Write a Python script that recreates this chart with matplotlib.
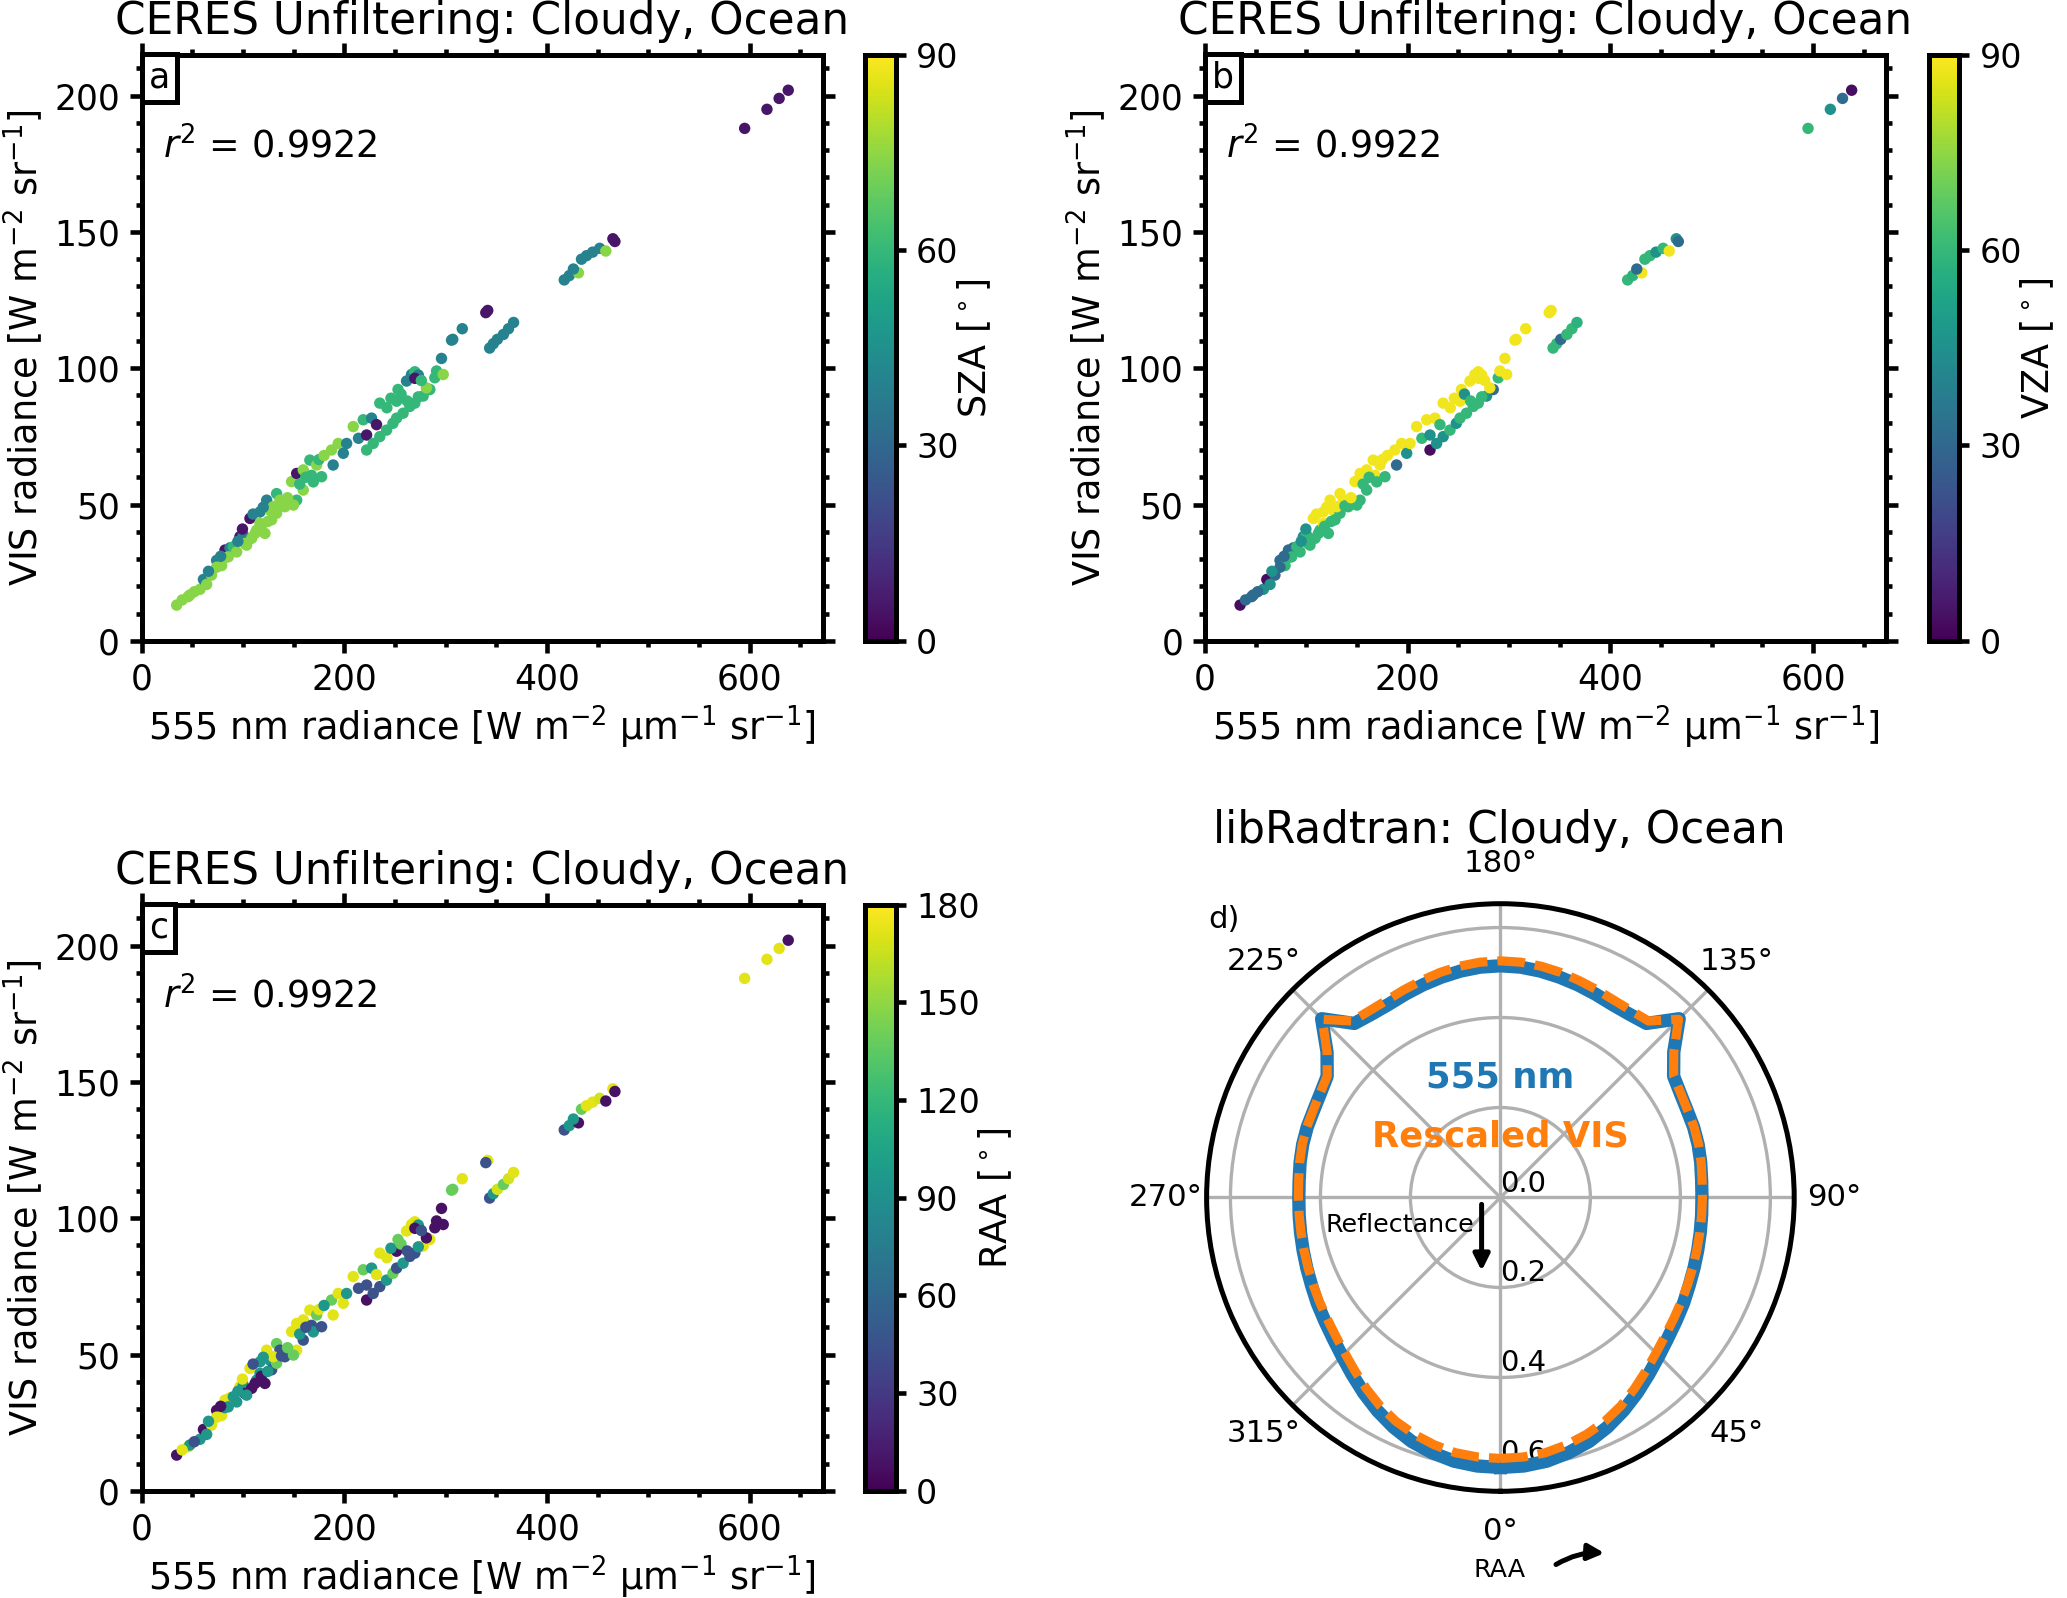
import numpy as np
import matplotlib
matplotlib.use("Agg")
import matplotlib.pyplot as plt
from matplotlib.ticker import MultipleLocator

# ---- scatter data (same points in a, b, c; colour differs) ----
rad555 = [595.0, 617.0, 629.0, 638.0,
          417.0, 422.0, 431.0, 426.0, 434.0, 439.0, 445.0, 452.0, 458.0, 465.0, 467.0,
          341.5, 339.6, 343.4, 347.0, 351.0, 357.0, 362.0, 367.0,
          316.4, 307.0,
          34.6, 46.0, 47.6, 57.6, 61.0, 69.0, 74.0, 79.0, 82.3, 87.2,
          90.5, 97.0, 100.3, 106.9, 113.5, 116.8, 121.7, 116.8, 123.4, 126.6,
          133.2, 136.5, 141.4, 148.0, 153.0, 159.5, 166.0, 172.7, 167.7, 159.5,
          153.0, 149.8, 169.4, 177.6, 187.4, 194.0, 189.0, 199.0, 202.3, 208.8,
          214.0, 218.7, 222.0, 226.9, 231.8, 222.0, 228.5, 235.0, 241.7, 248.0,
          251.6, 258.0, 264.7, 269.6, 277.8, 284.4, 289.3, 291.0, 297.6, 281.0,
          235.0, 253.0, 251.6, 261.4, 266.3, 269.6, 273.0, 269.6, 295.9, 305.8,
          85.5, 93.8, 102.0, 108.6, 111.9, 128.3, 133.2, 129.9, 103.6, 74.0,
          64.2, 118.0, 124.5, 138.0, 144.0, 156.0, 162.0, 175.0, 180.0, 95.0,
          110.0, 120.0, 99.5, 82.0, 78.0, 52.0, 66.0, 40.0, 242.0, 246.0,
          256.0, 276.0, 262.0, 273.0]
vis_rad = [188.0, 195.0, 199.0, 202.0,
           132.4, 134.0, 135.0, 136.4, 140.0, 141.3, 142.6, 144.0, 143.0, 147.5, 146.5,
           121.2, 120.4, 107.4, 109.0, 110.6, 112.4, 114.5, 116.8,
           114.5, 110.6,
           13.1, 16.2, 16.8, 18.9, 22.5, 24.1, 29.5, 27.6, 33.3, 34.1,
           34.5, 38.2, 38.8, 44.9, 40.6, 43.1, 39.4, 47.3, 51.6, 47.9,
           54.0, 51.6, 49.2, 58.4, 61.4, 62.7, 66.3, 64.5, 60.7, 55.3,
           51.6, 49.8, 58.3, 60.2, 70.0, 72.4, 64.5, 68.8, 72.4, 78.6,
           74.3, 81.1, 75.5, 81.7, 79.3, 70.0, 72.4, 74.9, 77.3, 79.8,
           81.7, 83.5, 86.0, 87.2, 89.8, 92.2, 96.5, 99.0, 97.7, 92.8,
           87.2, 92.2, 87.9, 95.3, 97.7, 98.7, 97.5, 96.3, 103.6, 110.3,
           30.8, 32.6, 35.7, 37.6, 39.4, 44.4, 46.8, 49.2, 35.1, 27.0,
           20.7, 42.0, 43.8, 49.5, 52.5, 57.5, 60.0, 66.5, 68.0, 36.5,
           46.5, 49.0, 41.0, 30.5, 31.0, 18.0, 25.5, 15.0, 85.5, 89.0,
           90.5, 95.5, 88.0, 89.5]
sza = [5, 5, 5, 5,
       40, 40, 74, 40, 40, 40, 40, 40, 74, 5, 5,
       5, 5, 40, 40, 40, 40, 40, 40,
       40, 40,
       74, 74, 74, 74, 40, 74, 40, 74, 5, 40,
       60, 5, 40, 5, 74, 74, 74, 40, 40, 74,
       60, 74, 74, 74, 5, 74, 60, 74, 60, 74,
       60, 74, 60, 60, 74, 74, 40, 40, 40, 74,
       40, 60, 5, 40, 5, 60, 60, 60, 60, 60,
       60, 60, 60, 60, 60, 60, 60, 60, 74, 74,
       60, 60, 60, 40, 40, 60, 40, 5, 40, 40,
       74, 74, 74, 74, 74, 74, 74, 74, 74, 74,
       74, 74, 74, 74, 74, 60, 60, 60, 74, 40,
       40, 40, 5, 74, 40, 74, 40, 74, 60, 60,
       60, 60, 60, 60]
vza = [60, 45, 31, 3,
       60, 58, 88, 31, 60, 60, 45, 60, 88, 45, 31,
       88, 88, 60, 60, 31, 60, 60, 58,
       88, 88,
       3, 31, 31, 45, 3, 31, 31, 60, 31, 31,
       60, 45, 60, 88, 60, 88, 60, 88, 88, 88,
       88, 88, 60, 88, 88, 88, 88, 88, 88, 60,
       60, 60, 60, 60, 88, 88, 31, 45, 88, 88,
       60, 88, 45, 88, 60, 3, 45, 45, 60, 45,
       60, 60, 60, 60, 45, 31, 60, 88, 88, 88,
       88, 88, 88, 88, 88, 88, 88, 88, 88, 88,
       60, 60, 60, 60, 60, 60, 60, 88, 60, 31,
       45, 60, 60, 60, 88, 60, 60, 88, 88, 45,
       88, 88, 45, 60, 31, 31, 45, 31, 88, 88,
       45, 88, 60, 60]
raa = [172, 172, 172, 8,
       45, 95, 8, 95, 138, 172, 172, 168, 8, 172, 8,
       172, 45, 45, 95, 168, 138, 168, 172,
       172, 138,
       8, 172, 95, 95, 8, 172, 8, 172, 172, 172,
       95, 172, 95, 172, 95, 95, 8, 95, 172, 95,
       138, 45, 45, 172, 172, 172, 172, 138, 45, 45,
       172, 138, 95, 45, 138, 172, 172, 172, 95, 172,
       45, 138, 45, 95, 172, 8, 45, 45, 95, 138,
       45, 95, 45, 45, 172, 172, 8, 8, 8, 8,
       172, 138, 8, 172, 172, 172, 95, 8, 8, 138,
       95, 95, 8, 8, 8, 45, 138, 172, 95, 172,
       95, 8, 95, 45, 138, 95, 45, 172, 95, 95,
       45, 95, 172, 95, 8, 45, 95, 172, 172, 95,
       138, 45, 45, 95]

# ---- libRadtran polar curves ----
raa_deg = [0, 5, 10, 15, 20, 25, 30, 35, 40, 45, 50, 55, 60, 65, 70, 75, 80, 85,
           90, 95, 100, 105, 110, 115, 120, 125, 130, 135, 140, 145, 150, 155, 160, 165, 170, 175,
           180, 185, 190, 195, 200, 205, 210, 215, 220, 225, 230, 235, 240, 245, 250, 255, 260, 265,
           270, 275, 280, 285, 290, 295, 300, 305, 310, 315, 320, 325, 330, 335, 340, 345, 350, 355, 360]
refl_555 = [0.600, 0.599, 0.595, 0.587, 0.577, 0.563, 0.547, 0.530, 0.513, 0.498, 0.486, 0.477,
            0.470, 0.463, 0.458, 0.454, 0.451, 0.449, 0.448, 0.449, 0.452, 0.455, 0.457, 0.458,
            0.462, 0.470, 0.503, 0.562, 0.505, 0.498, 0.496, 0.499, 0.503, 0.507, 0.511, 0.514,
            0.515, 0.514, 0.511, 0.507, 0.503, 0.499, 0.496, 0.498, 0.505, 0.562, 0.503, 0.470,
            0.462, 0.458, 0.457, 0.455, 0.452, 0.449, 0.448, 0.449, 0.451, 0.454, 0.458, 0.463,
            0.470, 0.477, 0.486, 0.498, 0.513, 0.530, 0.547, 0.563, 0.577, 0.587, 0.595, 0.599, 0.600]
refl_vis = [0.580, 0.579, 0.576, 0.569, 0.560, 0.549, 0.535, 0.519, 0.503, 0.489, 0.478, 0.470,
            0.464, 0.459, 0.455, 0.452, 0.450, 0.449, 0.449, 0.450, 0.453, 0.456, 0.458, 0.459,
            0.463, 0.470, 0.503, 0.560, 0.512, 0.507, 0.506, 0.509, 0.513, 0.518, 0.522, 0.525,
            0.526, 0.525, 0.522, 0.518, 0.513, 0.509, 0.506, 0.507, 0.512, 0.560, 0.503, 0.470,
            0.463, 0.459, 0.458, 0.456, 0.453, 0.450, 0.449, 0.449, 0.450, 0.452, 0.455, 0.459,
            0.464, 0.470, 0.478, 0.489, 0.503, 0.519, 0.535, 0.549, 0.560, 0.569, 0.576, 0.579, 0.580]

W, H = 2067, 1598
fig = plt.figure(figsize=(W / 300, H / 300), dpi=300)


def frac(left, top, right, bottom):
    return [left / W, 1 - bottom / H, (right - left) / W, (bottom - top) / H]


panels = [
    ("a", 141.6, 54.8, sza, 90, [0, 30, 60, 90], "SZA [$^\\circ$]"),
    ("b", 1205.0, 54.8, vza, 90, [0, 30, 60, 90], "VZA [$^\\circ$]"),
    ("c", 141.6, 904.8, raa, 180, [0, 30, 60, 90, 120, 150, 180], "RAA [$^\\circ$]"),
]

for tag, x0, y0, cvals, vmax, cticks, clabel in panels:
    ax = fig.add_axes(frac(x0, y0, x0 + 681.1, y0 + 586.0))
    cax = fig.add_axes(frac(x0 + 723.8, y0, x0 + 754.4, y0 + 586.0))
    sc = ax.scatter(rad555, vis_rad, c=cvals, cmap="viridis", vmin=0, vmax=vmax,
                    s=7.5, linewidths=0)
    ax.set_xlim(0, 672)
    ax.set_ylim(0, 215)
    ax.xaxis.set_major_locator(MultipleLocator(200))
    ax.xaxis.set_minor_locator(MultipleLocator(50))
    ax.yaxis.set_major_locator(MultipleLocator(50))
    ax.yaxis.set_minor_locator(MultipleLocator(10))
    ax.tick_params(which="both", direction="out", top=True, right=True,
                   width=1.1, labelsize=8.3, pad=2.4)
    ax.tick_params(which="major", length=2.8)
    ax.tick_params(which="minor", length=1.5)
    for sp in ax.spines.values():
        sp.set_linewidth(1.2)
    ax.set_title("CERES Unfiltering: Cloudy, Ocean", fontsize=10.5, pad=5)
    ax.set_xlabel("555 nm radiance [W m$^{-2}$ µm$^{-1}$ sr$^{-1}$]", fontsize=8.8)
    ax.set_ylabel("VIS radiance [W m$^{-2}$ sr$^{-1}$]", fontsize=8.8)
    ax.xaxis.set_label_coords(0.5, -0.107)
    ax.yaxis.set_label_coords(-0.141, 0.5)
    ax.text(0.031, 0.8435, "$r^2$ = 0.9922", transform=ax.transAxes,
            ha="left", va="center", fontsize=8.8)
    ax.annotate(tag, xy=(0, 1), xycoords="axes fraction", xytext=(1.7, -1.4),
                textcoords="offset points", ha="left", va="top", fontsize=8.3,
                bbox=dict(boxstyle="square,pad=0.2", fc="white", ec="black", lw=1.2))

    cb = fig.colorbar(sc, cax=cax, ticks=cticks)
    cb.outline.set_linewidth(1.2)
    cb.ax.tick_params(direction="out", width=1.1, length=2.4, labelsize=8.0, pad=2.4)
    cb.set_label(clabel, fontsize=8.8, labelpad=-0.6)

# ---- polar panel d ----
pax = fig.add_axes(frac(1206.6, 903.7, 1794.2, 1491.3), projection="polar")
th = np.deg2rad(raa_deg)
pax.plot(th, refl_555, color="#1f77b4", lw=3.2)
pax.plot(th, refl_vis, color="#ff7f0e", lw=2.2, dashes=(3.0, 1.1))
pax.set_theta_zero_location("S")
pax.set_theta_direction(1)
pax.set_rlim(0, 0.653)
pax.set_rticks([0.0, 0.2, 0.4, 0.6])
pax.set_yticklabels(["0.0", "0.2", "0.4", "0.6"])
pax.set_rlabel_position(0)
pax.set_thetagrids(range(0, 360, 45), [f"{d}°" for d in range(0, 360, 45)])
pax.tick_params(axis="x", labelsize=7.4, pad=-0.8)
pax.tick_params(axis="y", labelsize=7)
pax.grid(True, color="#b0b0b0", lw=0.8)
pax.spines["polar"].set_linewidth(1.2)

pax.text(0.5, 0.704, "555 nm", transform=pax.transAxes, ha="center", va="center",
         color="#1f77b4", fontsize=8.5, fontweight="bold")
pax.text(0.5, 0.603, "Rescaled VIS", transform=pax.transAxes, ha="center", va="center",
         color="#ff7f0e", fontsize=8.5, fontweight="bold")
pax.text(0.029, 0.973, "d)", transform=pax.transAxes, ha="center", va="center", fontsize=7.4)
pax.annotate("", xy=(0.468, 0.361), xycoords="axes fraction",
             xytext=(0.468, 0.5025), textcoords="axes fraction",
             arrowprops=dict(arrowstyle="-|>", color="black", lw=1.2, mutation_scale=8))
pax.text(0.455, 0.453, "Reflectance", transform=pax.transAxes, ha="right", va="center",
         fontsize=6.1)

fig.text(0.7254, 0.4725, "libRadtran: Cloudy, Ocean", ha="center", va="baseline", fontsize=10.5)
fig.text(0.7254, 0.0178, "RAA", ha="center", va="center", fontsize=6.1)
fig.add_artist(matplotlib.patches.FancyArrowPatch(
    (1549 / W, 1 - 1569 / H), (1612.7 / W, 1 - 1554 / H), transform=fig.transFigure,
    connectionstyle="arc3,rad=-0.2", arrowstyle="-|>", mutation_scale=8, lw=1.2, color="black"))

fig.savefig("out.png", dpi=300)
